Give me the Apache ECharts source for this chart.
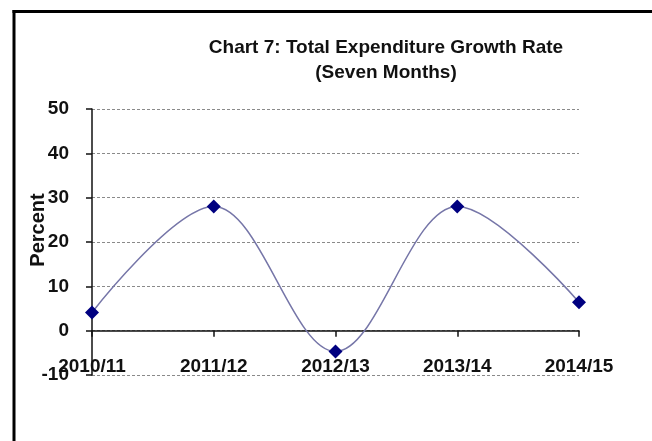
<!DOCTYPE html>
<html>
<head>
<meta charset="utf-8">
<script src="https://cdn.jsdelivr.net/npm/echarts@6/dist/echarts.min.js"></script>
<style>
html,body{margin:0;padding:0;background:#fff;}
#chart{width:652px;height:441px;}
</style>
</head>
<body>
<div id="chart"></div>
<script>
var categories = ['2010/11', '2011/12', '2012/13', '2013/14', '2014/15'];
var growthRate = [4.1, 28.0, -4.7, 28.0, 6.4];
var titleLines = ['Chart 7: Total Expenditure Growth Rate', '(Seven Months)'];
var yAxisTitle = 'Percent';

var FONT = '"Liberation Sans", Arial, sans-serif';

var chart = echarts.init(document.getElementById('chart'), null, {renderer: 'canvas'});
chart.setOption({
  backgroundColor: '#ffffff',
  animation: false,
  title: {
    text: titleLines.join('\n'),
    left: 386,
    top: 35,
    padding: 0,
    textAlign: 'center',
    textStyle: {
      fontFamily: FONT,
      fontWeight: 'bold',
      fontSize: 19,
      lineHeight: 25,
      color: '#111'
    }
  },
  grid: {left: 92, right: 73, top: 109, bottom: 66, containLabel: false},
  xAxis: {
    type: 'category',
    data: categories,
    boundaryGap: false,
    axisLine: {onZero: true, lineStyle: {color: '#111', width: 1.5}},
    axisTick: {show: true, length: 6, lineStyle: {color: '#111', width: 1.5}},
    axisLabel: {
      margin: -18,
      fontFamily: FONT,
      fontWeight: 'bold',
      fontSize: 19,
      color: '#111'
    },
    splitLine: {show: false}
  },
  yAxis: {
    type: 'value',
    min: -10,
    max: 50,
    interval: 10,
    axisLine: {show: true, lineStyle: {color: '#111', width: 1.5}},
    axisTick: {show: true, length: 6, lineStyle: {color: '#111', width: 1.5}},
    axisLabel: {
      margin: 23,
      fontFamily: FONT,
      fontWeight: 'bold',
      fontSize: 19,
      color: '#111'
    },
    splitLine: {show: true, lineStyle: {color: '#8a8a8a', type: [3, 2], width: 1}}
  },
  graphic: [
    {type: 'line', shape: {x1: 14, y1: 10, x2: 14, y2: 441}, style: {stroke: '#000', lineWidth: 3}, z: 100},
    {type: 'line', shape: {x1: 12.5, y1: 11.5, x2: 652, y2: 11.5}, style: {stroke: '#000', lineWidth: 3}, z: 100},
    {type: 'text', x: 38, y: 230, rotation: Math.PI / 2,
      style: {text: yAxisTitle, fontFamily: FONT, fontWeight: 'bold', fontSize: 20, fill: '#111',
        textAlign: 'center', textVerticalAlign: 'middle'}}
  ],
  series: [{
    type: 'line',
    data: growthRate,
    smooth: 0.35,
    symbol: 'diamond',
    symbolSize: 14,
    lineStyle: {color: '#7676a8', width: 1.5},
    itemStyle: {color: '#000080'},
    z: 5
  }]
});
</script>
</body>
</html>
